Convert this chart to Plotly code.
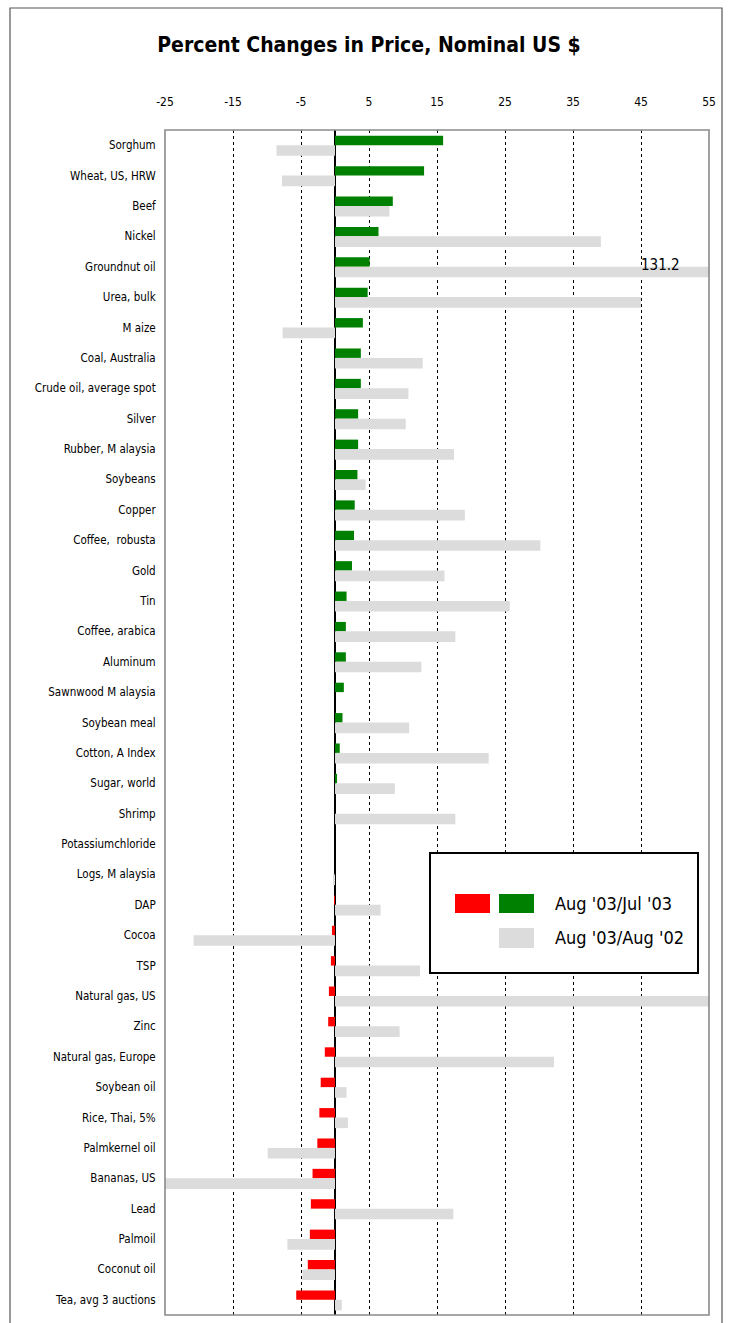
import plotly.graph_objects as go

# Commodities, ordered by the one-month change
commodities = [
    "Sorghum", "Wheat, US, HRW", "Beef", "Nickel", "Groundnut oil", "Urea, bulk",
    "M aize", "Coal, Australia", "Crude oil, average spot", "Silver",
    "Rubber, M alaysia", "Soybeans", "Copper", "Coffee,  robusta", "Gold", "Tin",
    "Coffee, arabica", "Aluminum", "Sawnwood M alaysia", "Soybean meal",
    "Cotton, A Index", "Sugar, world", "Shrimp", "Potassiumchloride",
    "Logs, M alaysia", "DAP", "Cocoa", "TSP", "Natural gas, US", "Zinc",
    "Natural gas, Europe", "Soybean oil", "Rice, Thai, 5%", "Palmkernel oil",
    "Bananas, US", "Lead", "Palmoil", "Coconut oil", "Tea, avg 3 auctions",
]

# Aug '03 vs Jul '03 (%)
chg_month = [
    15.9, 13.1, 8.5, 6.4, 5.1, 4.8,
    4.1, 3.8, 3.8, 3.4,
    3.4, 3.3, 2.9, 2.8, 2.5, 1.7,
    1.6, 1.6, 1.3, 1.1,
    0.7, 0.3, 0.0, 0.0,
    0.0, -0.1, -0.45, -0.6, -0.9, -1.0,
    -1.5, -2.1, -2.3, -2.6,
    -3.3, -3.55, -3.7, -4.0, -5.7,
]

# Aug '03 vs Aug '02 (%)
chg_year = [
    -8.6, -7.8, 8.0, 39.1, 131.2, 45.0,
    -7.7, 12.9, 10.8, 10.4,
    17.5, 4.5, 19.1, 30.2, 16.1, 25.7,
    17.7, 12.7, 0.0, 10.9,
    22.6, 8.8, 17.7, 0.0,
    -0.3, 6.7, -20.8, 12.5, 57.0, 9.5,
    32.2, 1.7, 1.9, -9.9,
    -26.0, 17.4, -7.0, -4.8, 1.0,
]

x_ticks = [-25, -15, -5, 5, 15, 25, 35, 45, 55]

GREEN = "#008000"
RED = "#FF0000"
GREY = "#DCDCDC"
NARROW = "Liberation Sans Narrow, DejaVu Sans Condensed, Arial Narrow, Liberation Sans, sans-serif"

W, H = 729, 1323
ML, MR, MT, MB = 165, 20, 130, 8
PW, PH = W - ML - MR, H - MT - MB


def px(x):
    return (x - ML) / PW


def py(y):
    return (H - MB - y) / PH


fig = go.Figure()

fig.add_trace(go.Bar(
    y=commodities, x=chg_month, orientation="h",
    marker=dict(color=[RED if v < 0 else GREEN for v in chg_month], line_width=0),
    width=0.31, offset=-0.31, name="Aug '03/Jul '03", showlegend=False,
))
fig.add_trace(go.Bar(
    y=commodities, x=chg_year, orientation="h",
    marker=dict(color=GREY, line_width=0),
    width=0.35, offset=0.0, name="Aug '03/Aug '02", showlegend=False,
))

# value of the off-scale groundnut oil bar
fig.add_annotation(
    x=45, y="Groundnut oil", xref="x", yref="y", text=f"{chg_year[4]:.1f}",
    showarrow=False, xanchor="left", yanchor="middle", xshift=-2, yshift=2,
    font=dict(family=NARROW, size=15, color="black"),
)

shapes = [
    # outer chart frame
    dict(type="rect", xref="paper", yref="paper", x0=px(10), x1=px(722), y0=py(1335), y1=py(8),
         line=dict(color="#555555", width=1.2), fillcolor="rgba(0,0,0,0)", layer="above"),
    # plot area frame
    dict(type="rect", xref="paper", yref="paper", x0=0, x1=1, y0=0, y1=1,
         line=dict(color="#8a8a8a", width=1.6), fillcolor="rgba(0,0,0,0)", layer="above"),
    # legend box
    dict(type="rect", xref="paper", yref="paper", x0=px(430), x1=px(698), y0=py(973), y1=py(853),
         line=dict(color="black", width=2), fillcolor="white", layer="above"),
    dict(type="rect", xref="paper", yref="paper", x0=px(455), x1=px(490), y0=py(913), y1=py(894),
         line_width=0, fillcolor=RED, layer="above"),
    dict(type="rect", xref="paper", yref="paper", x0=px(499), x1=px(534), y0=py(913), y1=py(894),
         line_width=0, fillcolor=GREEN, layer="above"),
    dict(type="rect", xref="paper", yref="paper", x0=px(499), x1=px(534), y0=py(948), y1=py(928),
         line_width=0, fillcolor=GREY, layer="above"),
]
fig.add_annotation(x=px(553), y=py(904), xref="paper", yref="paper", text="Aug '03/Jul '03",
                   showarrow=False, xanchor="left", yanchor="middle",
                   font=dict(family=NARROW, size=18, color="black"))
fig.add_annotation(x=px(553), y=py(938), xref="paper", yref="paper", text="Aug '03/Aug '02",
                   showarrow=False, xanchor="left", yanchor="middle",
                   font=dict(family=NARROW, size=18, color="black"))

fig.update_layout(
    width=W, height=H,
    margin=dict(l=ML, r=MR, t=MT, b=MB),
    paper_bgcolor="white", plot_bgcolor="white",
    barmode="overlay",
    shapes=shapes,
    title=dict(text="<b>Percent Changes in Price, Nominal US $</b>", x=369 / W, xanchor="center",
               y=1 - 45 / H, yanchor="middle", yref="container",
               font=dict(family=NARROW, size=21, color="black")),
    xaxis=dict(
        side="top", range=[-25, 55], tickvals=x_ticks, ticktext=[str(v) for v in x_ticks],
        showgrid=True, gridcolor="black", gridwidth=1, griddash="3px,3px",
        zeroline=True, zerolinecolor="black", zerolinewidth=1.5,
        ticks="outside", ticklen=18, tickcolor="rgba(0,0,0,0)",
        tickfont=dict(family=NARROW, size=12, color="black"),
        showline=False, fixedrange=True,
    ),
    yaxis=dict(
        type="category", autorange="reversed", showgrid=False, zeroline=False,
        ticks="outside", ticklen=6, tickcolor="rgba(0,0,0,0)",
        tickfont=dict(family=NARROW, size=11.5, color="black"),
        showline=False,
    ),
)

fig.write_html("out.html")
